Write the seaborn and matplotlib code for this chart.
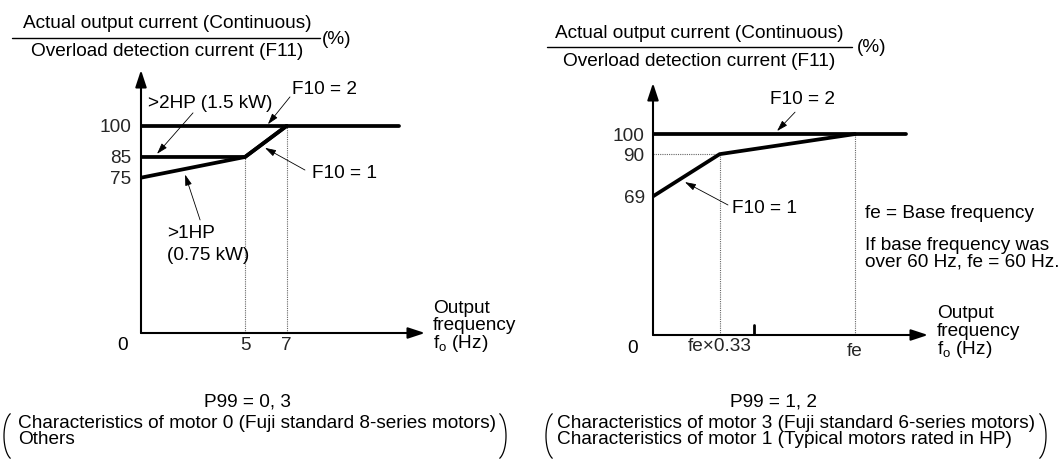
import matplotlib
matplotlib.use('Agg')
import matplotlib.pyplot as plt
import seaborn as sns
import pandas as pd
import numpy as np
from matplotlib.lines import Line2D

# left panel (P99 = 0, 3): frequency in Hz, current in %
left_f10_2_freq = [0, 12.4]
left_f10_2_pct = [100, 100]
left_2hp_freq = [0, 5, 7]
left_2hp_pct = [85, 85, 100]
left_1hp_freq = [0, 5, 7]
left_1hp_pct = [75, 85, 100]
left_yticks = [100, 85, 75]
left_xticks = [5, 7]

# right panel (P99 = 1, 2): frequency as a fraction of fe
right_f10_2_freq = [0, 1.25]
right_f10_2_pct = [100, 100]
right_f10_1_freq = [0, 0.33, 1.0]
right_f10_1_pct = [69, 90, 100]
right_yticks = [100, 90, 69]
right_xticks = [0.33, 1.0]
right_xlabels = ['fe\u00d70.33', 'fe']
right_mark = 0.5

sns.set_theme(style='white')
plt.rcParams['font.family'] = ['Liberation Sans', 'DejaVu Sans']
plt.rcParams['mathtext.default'] = 'regular'

FS = 13.7
W, H = 1058, 461
fig = plt.figure(figsize=(W / 100, H / 100), dpi=100)


def fx(x):
    return x / W


def fy(y):
    return 1 - y / H


def txt(x, y, s, ha='left', **kw):
    fig.text(fx(x), fy(y), s, ha=ha, va='center', fontsize=FS, color='black', **kw)


def curves(*parts):
    rows = []
    for name, xs, ys in parts:
        for x, y in zip(xs, ys):
            rows.append({'curve': name, 'freq': x, 'pct': y})
    return pd.DataFrame(rows)


def setup(ax, xmax, ymax):
    ax.set_xlim(0, xmax)
    ax.set_ylim(0, ymax)
    for s in ax.spines.values():
        s.set_visible(False)
    ax.set_facecolor('none')
    ax.set_xticks([])
    head = '-|>,head_length=0.85,head_width=0.28'
    for end in [(1, 0), (0, 1)]:
        ax.annotate('', xy=end, xytext=(0, 0), xycoords='axes fraction',
                    arrowprops=dict(arrowstyle=head, lw=1.5, color='black',
                                    shrinkA=0, shrinkB=0), annotation_clip=False)


def leader(ax, start, tip):
    ax.annotate('', xy=tip, xytext=start,
                arrowprops=dict(arrowstyle='-|>,head_length=0.55,head_width=0.17',
                                lw=0.6, color='black', shrinkA=0, shrinkB=0),
                annotation_clip=False)


def bracket(x, side, yc=436, a=10, b=24):
    # thin round bracket spanning two text lines, drawn in figure pixels
    t = np.radians(np.linspace(112, 248, 40))
    xs = np.cos(t) * a
    if side == 'right':
        xs = -xs
    xs = x + xs - (np.cos(t) * a).min() * (1 if side == 'left' else -1)
    ys = yc + np.sin(t) * b
    fig.add_artist(Line2D(xs / W, 1 - ys / H, lw=0.9, color='black'))


dot = dict(color='0.4', lw=0.8, linestyle=(0, (1, 1)))

# ---------------- left panel ----------------
ax1 = fig.add_axes([fx(141), fy(333), (425 - 141) / W, (333 - 70) / H])
setup(ax1, 13.65, 127)
df1 = curves(('F10=2', left_f10_2_freq, left_f10_2_pct),
             ('2HP', left_2hp_freq, left_2hp_pct),
             ('1HP', left_1hp_freq, left_1hp_pct))
ax1.plot([left_xticks[0]] * 2, [0, left_2hp_pct[1]], **dot)
ax1.plot([left_xticks[1]] * 2, [0, left_2hp_pct[2]], **dot)
sns.lineplot(data=df1, x='freq', y='pct', units='curve', estimator=None, sort=False,
             color='black', lw=2.7, ax=ax1, solid_joinstyle='miter')
ax1.set_xlabel('')
ax1.set_ylabel('')
ax1.set_yticks(left_yticks, [str(v) for v in left_yticks])
ax1.tick_params(axis='y', length=0, pad=7, labelsize=FS)
for v in left_xticks:
    ax1.annotate(str(v), xy=(v, 0), xytext=(0, -9), textcoords='offset points',
                 ha='center', va='center', fontsize=FS, annotation_clip=False)
leader(ax1, (7.16, 114), (6.1, 100.8))
leader(ax1, (2.5, 106.3), (0.77, 86.5))
leader(ax1, (7.88, 78.7), (5.96, 89.4))
leader(ax1, (2.84, 54.6), (2.12, 76.5))

txt(167, 24, 'Actual output current (Continuous)', ha='center')
fig.add_artist(Line2D([fx(12), fx(320)], [fy(38), fy(38)], lw=1, color='black'))
txt(167, 52, 'Overload detection current (F11)', ha='center')
txt(322, 39, '(%)')
txt(292, 90, 'F10 = 2')
txt(148, 103, '>2HP (1.5 kW)')
txt(312, 173, 'F10 = 1')
txt(167, 233, '>1HP')
txt(167, 255, '(0.75 kW)')
txt(123, 345, '0', ha='center')
txt(433, 308, 'Output')
txt(433, 326, 'frequency')
txt(433, 344, r'f$_{o}$ (Hz)')
txt(248, 402, 'P99 = 0, 3', ha='center')
txt(18, 423, 'Characteristics of motor 0 (Fuji standard 8-series motors)')
txt(18, 439, 'Others')

# ---------------- right panel ----------------
ax2 = fig.add_axes([fx(653), fy(335), (928 - 653) / W, (335 - 83) / H])
setup(ax2, 1.361, 125.4)
df2 = curves(('F10=2', right_f10_2_freq, right_f10_2_pct),
             ('F10=1', right_f10_1_freq, right_f10_1_pct))
ax2.plot([0, right_xticks[0]], [right_f10_1_pct[1]] * 2, **dot)
ax2.plot([right_xticks[0]] * 2, [0, right_f10_1_pct[1]], **dot)
ax2.plot([right_xticks[1]] * 2, [0, right_f10_1_pct[2]], **dot)
ax2.plot([right_mark] * 2, [0, 5], color='black', lw=2)
sns.lineplot(data=df2, x='freq', y='pct', units='curve', estimator=None, sort=False,
             color='black', lw=2.7, ax=ax2, solid_joinstyle='miter')
ax2.set_xlabel('')
ax2.set_ylabel('')
ax2.set_yticks(right_yticks, [str(v) for v in right_yticks])
ax2.tick_params(axis='y', length=0, pad=6, labelsize=FS)
for v, lab, off in zip(right_xticks, right_xlabels, [-8, -12]):
    ax2.annotate(lab, xy=(v, 0), xytext=(0, off), textcoords='offset points',
                 ha='center', va='center', fontsize=FS, annotation_clip=False)
leader(ax2, (0.703, 110.9), (0.614, 101.5))
leader(ax2, (0.371, 64.7), (0.158, 76.1))

txt(699, 33, 'Actual output current (Continuous)', ha='center')
fig.add_artist(Line2D([fx(547), fx(852)], [fy(47), fy(47)], lw=1, color='black'))
txt(699, 61, 'Overload detection current (F11)', ha='center')
txt(857, 48, '(%)')
txt(770, 100, 'F10 = 2')
txt(732, 208, 'F10 = 1')
txt(865, 213, 'fe = Base frequency')
txt(865, 245, 'If base frequency was')
txt(865, 262, 'over 60 Hz, fe = 60 Hz.')
txt(633, 348, '0', ha='center')
txt(937, 313, 'Output')
txt(937, 331, 'frequency')
txt(937, 349, r'f$_{o}$ (Hz)')
txt(773, 402, 'P99 = 1, 2', ha='center')
txt(557, 423, 'Characteristics of motor 3 (Fuji standard 6-series motors)')
txt(557, 439, 'Characteristics of motor 1 (Typical motors rated in HP)')

# round brackets around the motor descriptions
bracket(4, 'left')
bracket(506, 'right')
bracket(546, 'left')
bracket(1046, 'right')

fig.savefig('out.png', dpi=100)
